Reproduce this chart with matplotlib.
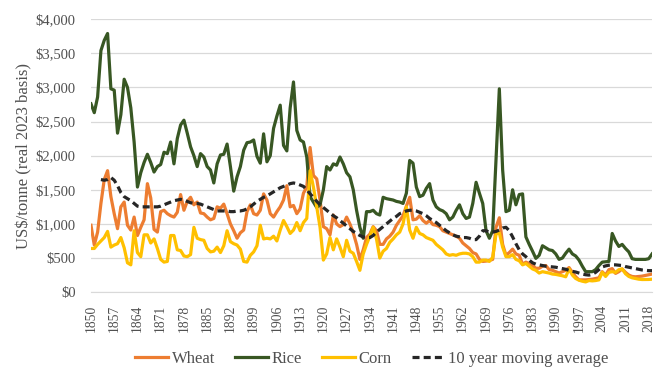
import numpy as np
from matplotlib import pyplot as plt
from matplotlib.ticker import FuncFormatter

years = list(range(1850, 2020))

# values, one row per decade
rice = [
    2760, 2630, 2860, 3540, 3690, 3790, 2980, 2960, 2330, 2600,
    3120, 3000, 2700, 2200, 1540, 1750, 1900, 2020, 1900, 1760,
    1840, 1870, 2050, 2030, 2200, 1880, 2250, 2450, 2520, 2330,
    2130, 2000, 1840, 2030, 1980, 1840, 1790, 1600, 1880, 2010,
    2020, 2170, 1840, 1480, 1690, 1840, 2080, 2190, 2200, 2230,
    1990, 1890, 2320, 1910, 2000, 2400, 2580, 2740, 2150, 2070,
    2700, 3080, 2370, 2230, 2200, 1980, 1400, 1320, 1240, 1280,
    1500, 1840, 1790, 1880, 1860, 1980, 1880, 1750, 1690, 1500,
    1200, 950, 790, 1180, 1180, 1200, 1150, 1130, 1390, 1370,
    1360, 1350, 1330, 1320, 1300, 1450, 1930, 1890, 1540, 1400,
    1420, 1520, 1590, 1350, 1250, 1210, 1190, 1150, 1060, 1100,
    1200, 1280, 1150, 1080, 1100, 1300, 1610, 1450, 1300, 900,
    790, 900, 1930, 2980, 1790, 1180, 1200, 1500, 1280, 1430,
    1440, 810, 700, 600, 495, 540, 680, 650, 620, 610,
    560, 480, 500, 570, 630, 560, 530, 470, 380, 300,
    300, 300, 330, 390, 440, 445, 450, 860, 750, 670,
    700, 640, 590, 490, 480, 480, 480, 480, 490, 560,
]

wheat = [
    980, 690, 880, 1300, 1650, 1780, 1400, 1150, 930, 1250,
    1320, 980, 910, 1100, 830, 950, 1060, 1590, 1380, 920,
    880, 1180, 1200, 1150, 1120, 1100, 1170, 1430, 1200, 1330,
    1390, 1280, 1320, 1160, 1150, 1100, 1060, 1080, 1250, 1230,
    1290, 1150, 1000, 900, 790, 870, 910, 1180, 1280, 1150,
    1130, 1200, 1440, 1350, 1150, 1100, 1180, 1250, 1350, 1560,
    1250, 1270, 1150, 1220, 1450, 1540, 2120, 1710, 1660, 1350,
    960, 930, 840, 1130, 1000, 960, 990, 1100, 1000, 870,
    700, 480, 620, 800, 850, 960, 900, 700, 700, 780,
    820, 880, 980, 1050, 1120, 1260, 1390, 1060, 1070, 1120,
    1050, 1010, 1050, 990, 980, 960, 900, 880, 860, 840,
    820, 790, 720, 680, 640, 580, 560, 480, 450, 455,
    465, 480, 950, 1090, 700, 540, 580, 630, 560, 540,
    410, 440, 420, 390, 350, 350, 380, 390, 330, 320,
    300, 280, 300, 320, 360, 290, 225, 180, 180, 180,
    185, 190, 200, 210, 300, 250, 330, 345, 275, 300,
    340, 290, 250, 230, 225, 230, 235, 245, 255, 265,
]

corn = [
    640, 640, 700, 750, 800, 890, 660, 690, 710, 800,
    650, 430, 400, 900, 580, 520, 840, 840, 720, 780,
    640, 480, 440, 450, 830, 830, 620, 610, 530, 520,
    550, 950, 790, 770, 760, 640, 590, 600, 660, 580,
    680, 900, 740, 710, 690, 630, 450, 440, 540, 590,
    680, 980, 780, 790, 780, 820, 750, 910, 1050, 960,
    860, 910, 1020, 900, 1020, 1080, 1780, 1540, 1250, 950,
    470, 560, 800, 620, 780, 660, 520, 760, 600, 570,
    450, 320, 560, 700, 820, 950, 780, 500, 600, 640,
    730, 780, 840, 880, 1000, 1250, 910, 790, 950, 860,
    840, 800, 780, 760, 700, 660, 620, 560, 540, 550,
    540, 560, 570, 570, 560, 520, 440, 440, 470, 470,
    450, 510, 850, 870, 660, 520, 520, 550, 480, 460,
    400, 420, 380, 340, 320, 280, 300, 290, 280, 265,
    260, 250, 240, 225, 340, 250, 200, 175, 160, 150,
    170, 165, 170, 180, 290, 230, 290, 300, 290, 330,
    340, 270, 230, 210, 200, 190, 185, 185, 186, 190,
]

nan = float('nan')
moving_avg = [
    nan, nan, nan, 1650, 1640, 1650, 1680, 1640, 1560, 1460,
    1400, 1370, 1340, 1300, 1260, 1250, 1250, 1250, 1250, 1250,
    1250, 1260, 1280, 1300, 1320, 1340, 1350, 1360, 1350, 1330,
    1310, 1300, 1300, 1290, 1270, 1250, 1230, 1210, 1190, 1190,
    1190, 1190, 1180, 1180, 1190, 1190, 1200, 1220, 1250, 1290,
    1330, 1360, 1390, 1410, 1440, 1470, 1500, 1530, 1550, 1570,
    1590, 1600, 1590, 1570, 1550, 1500, 1440, 1390, 1330, 1280,
    1240, 1200, 1160, 1120, 1090, 1050, 1010, 970, 930, 890,
    860, 830, 810, 800, 800, 830, 880, 920, 960, 1000,
    1040, 1080, 1110, 1150, 1170, 1190, 1200, 1200, 1190, 1170,
    1150, 1120, 1080, 1050, 1020, 980, 940, 900, 870, 840,
    820, 810, 800, 800, 790, 770, 770, 820, 900, 900,
    880, 880, 890, 910, 940, 950, 900, 810, 710, 620,
    560, 520, 470, 430, 410, 400, 390, 380, 375, 370,
    365, 355, 345, 335, 320, 305, 295, 280, 265, 255,
    250, 260, 290, 330, 370, 385, 395, 400, 400, 395,
    390, 375, 365, 355, 345, 335, 325, 320, 315, 315,
]

tick_years = list(range(1850, 2019, 7))

plt.rcParams['font.family'] = ['Liberation Serif', 'DejaVu Serif']
text_col = '#505050'

fig, ax = plt.subplots(figsize=(6.64, 3.76), dpi=100)
fig.subplots_adjust(left=0.137, right=0.982, top=0.949, bottom=0.223)

lw = 2.3
ax.plot(years, wheat, color='#ED7D31', lw=lw, label='Wheat')
ax.plot(years, rice, color='#385723', lw=lw, label='Rice')
ax.plot(years, corn, color='#FFC000', lw=lw, label='Corn')
ax.plot(years, moving_avg, color='#262626', lw=lw, ls=(0, (2.2, 1.3)),
        label='10 year moving average')

ax.set_xlim(1850, 2019)
ax.set_ylim(0, 4000)
ax.set_yticks(np.arange(0, 4001, 500))
ax.yaxis.set_major_formatter(FuncFormatter(lambda v, p: '${:,.0f}'.format(v)))
ax.set_xticks(tick_years)
ax.set_xticklabels([str(y) for y in tick_years], rotation=90)

ax.grid(axis='y', color='#D9D9D9', lw=0.9)
ax.set_axisbelow(True)
for s in ['top', 'right', 'left']:
    ax.spines[s].set_visible(False)
ax.spines['bottom'].set_color('#D9D9D9')
ax.tick_params(length=0, colors=text_col)
ax.tick_params(axis='y', labelsize=10.5, pad=11)
ax.tick_params(axis='x', labelsize=9.8, pad=9)

ax.set_ylabel('US$/tonne (real 2023 basis)', fontsize=12, color=text_col,
              labelpad=2)

leg = fig.legend(loc='lower center', ncol=4, frameon=False, fontsize=12,
                 bbox_to_anchor=(0.56, -0.015), handlelength=2.0,
                 columnspacing=1.2, handletextpad=0.2)
for t in leg.get_texts():
    t.set_color(text_col)

plt.savefig('out.png', dpi=100)
